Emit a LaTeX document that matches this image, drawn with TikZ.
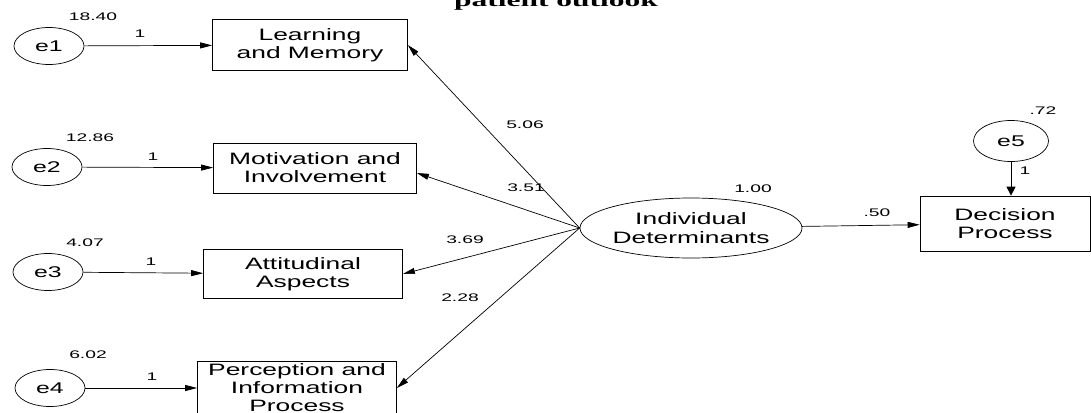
\documentclass[tikz,border=0pt]{standalone}
\usepackage{fontspec}
\setmainfont[FakeStretch=1.6]{Liberation Sans}
\newfontfamily\numfont[FakeStretch=1.75]{Liberation Sans}
\newfontfamily\titlefont[FakeStretch=1.75]{Liberation Serif}
\usetikzlibrary{arrows.meta,shapes.geometric}
\tikzset{
obs/.style={draw,line width=.7pt,minimum height=50pt,inner sep=0pt,align=center,font=\fontsize{16.5}{18}\selectfont},
err/.style={draw,ellipse,line width=.7pt,minimum width=70pt,minimum height=37pt,inner sep=0pt,font=\fontsize{15.5}{15.5}\selectfont},
lat/.style={draw,ellipse,line width=.7pt,inner sep=0pt,align=center,font=\fontsize{16.5}{19}\selectfont},
path/.style={line width=.7pt,-{Triangle[length=12pt,width=6pt]}},
num/.style={inner sep=0pt,font=\numfont\fontsize{11}{11}\selectfont}}
\begin{document}
\begin{tikzpicture}[x=1pt,y=-1pt]
\useasboundingbox (0,0) rectangle (1091,412);
% title, cut off at the top
\node[anchor=base,font={\titlefont\bfseries\fontsize{18}{18}\selectfont}] (title) at (556,7) {patient outlook};
% error terms
\node[err] (e1) at (49,46) {e1};
\node[err] (e2) at (47,167) {e2};
\node[err] (e3) at (48,272) {e3};
\node[err] (e4) at (50,388) {e4};
\node[err,minimum width=75pt,minimum height=41pt] (e5) at (1011,141) {e5};
% observed variables
\node[obs,minimum width=195pt,minimum height=51pt] (lm) at (310,45) {Learning\\and Memory};
\node[obs,minimum width=203pt] (mi) at (315,168) {Motivation and\\Involvement};
\node[obs,minimum width=199pt,minimum height=49pt] (aa) at (303,274) {Attitudinal\\Aspects};
\node[obs,minimum width=199pt,minimum height=54pt] (pip) at (297,388) {Perception and\\Information\\Process};
\node[obs,minimum width=170pt,minimum height=55pt] (dp) at (1005,223.5) {Decision\\Process};
% latent
\node[lat,minimum width=212pt,minimum height=60pt] (id) at (691,228) {Individual\\Determinants};
% paths
\foreach \e/\b in {e1/lm,e2/mi,e3/aa,e4/pip}
  \draw[path] (\e) -- (\b);
\draw[path] (id.west) -- (lm.east);
\draw[path] (id.west) -- ([yshift=-5pt]mi.east);
\draw[path] (id.west) -- (aa.east);
\draw[path] (id.west) -- (pip.east);
\draw[path] (id) -- (dp);
\draw[line width=.7pt,-{Triangle[length=9pt,width=9pt]}] (e5) -- (e5 |- dp.north);
% variances
\node[num] (v1) at (93,17) {18.40};
\node[num] (v2) at (90,138) {12.86};
\node[num] (v3) at (85,243) {4.07};
\node[num] (v4) at (88,355) {6.02};
\node[num] (v5) at (1043,111) {.72};
\node[num] (vid) at (753,189) {1.00};
% weights
\node[num] (w1) at (140,34) {1};
\node[num] (w2) at (153,157) {1};
\node[num] (w3) at (151,262) {1};
\node[num] (w4) at (152,377) {1};
\node[num] (w5) at (1025,171) {1};
\node[num] (l1) at (525,125) {5.06};
\node[num] (l2) at (526,188) {3.51};
\node[num] (l3) at (465,240) {3.69};
\node[num] (l4) at (460,298) {2.28};
\node[num] (l5) at (877,213) {.50};
\end{tikzpicture}
\end{document}
